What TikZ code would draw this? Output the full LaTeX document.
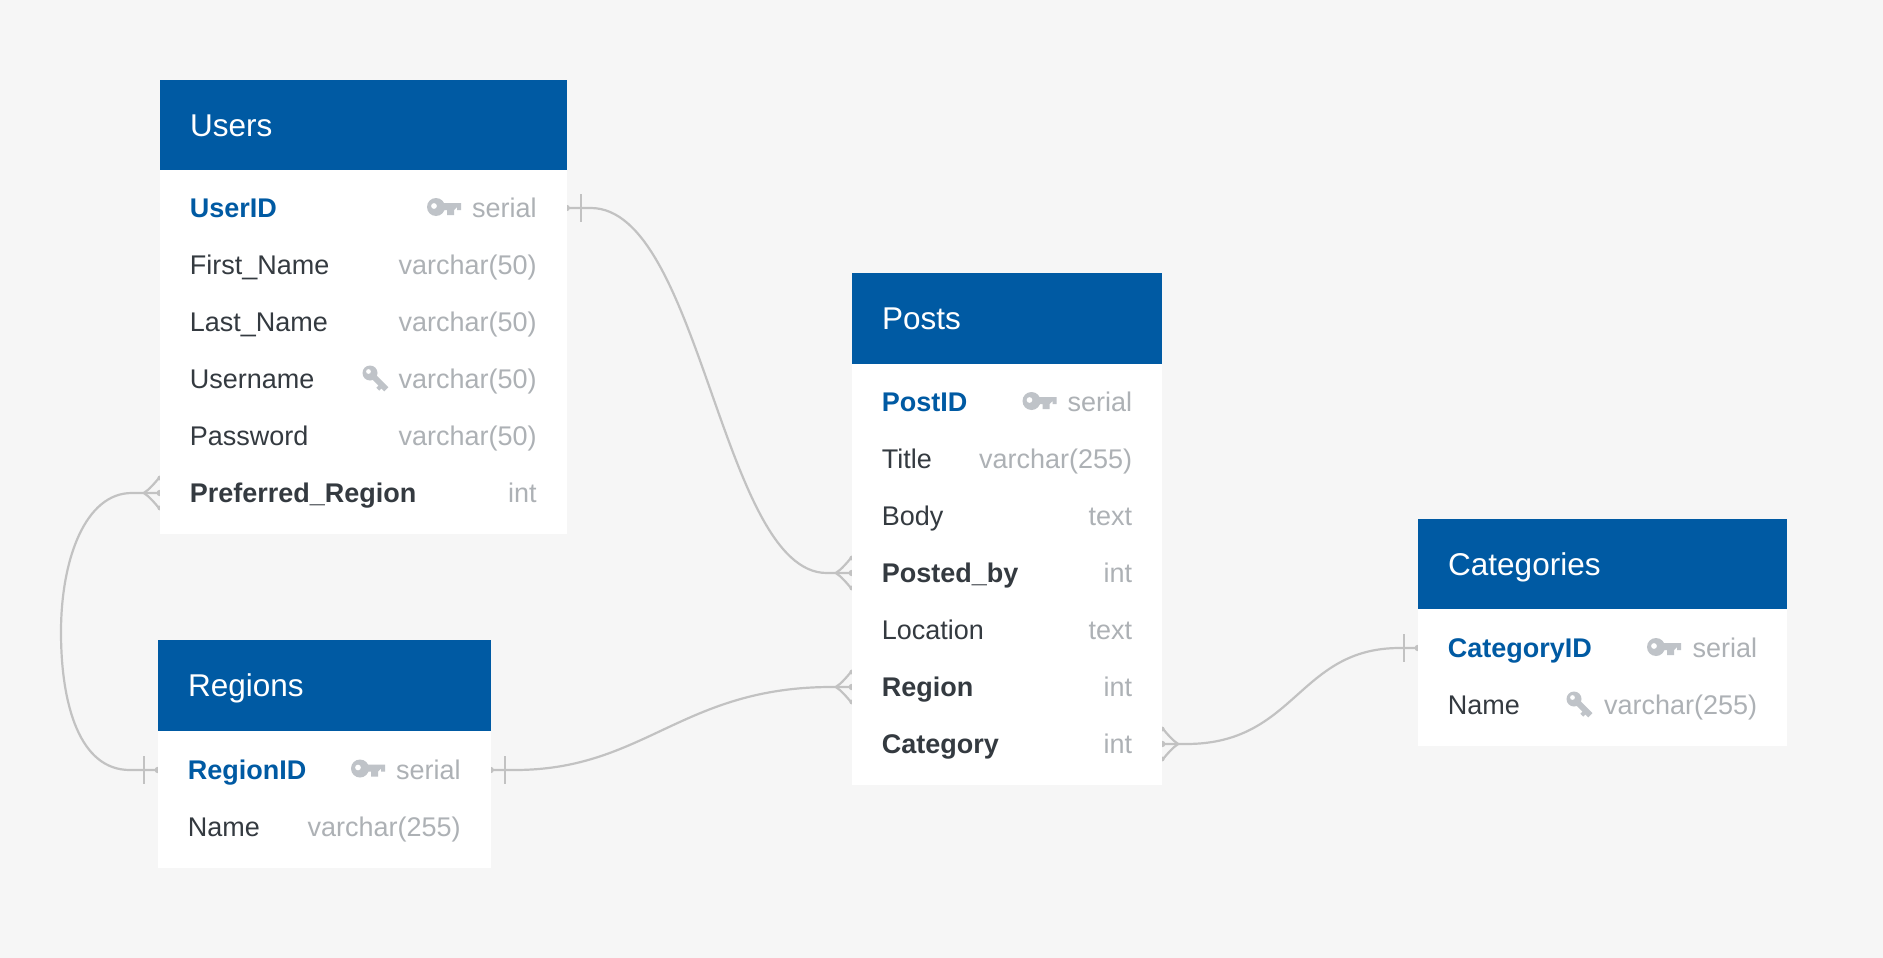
\documentclass[tikz,border=0pt]{standalone}
\usepackage{fontspec}
\setmainfont{Liberation Sans}
\definecolor{pagebg}{HTML}{F6F6F6}
\definecolor{headblue}{HTML}{005AA3}
\definecolor{darktext}{HTML}{343A40}
\definecolor{typetext}{HTML}{ADB1B5}
\definecolor{keygrey}{HTML}{BFC3C8}
\definecolor{linkgrey}{HTML}{C2C2C2}
\tikzset{
  headbox/.style={fill=headblue,draw=none,inner sep=0pt,anchor=north west,minimum height=91pt},
  bodybox/.style={fill=white,draw=none,inner sep=0pt,anchor=north west},
  rowbox/.style={draw=none,fill=none,inner sep=0pt,minimum height=57pt},
  headtext/.style={text=white,inner sep=0pt,anchor=base west,font=\fontsize{31.5}{36}\selectfont},
  fieldtext/.style={text=darktext,inner sep=0pt,anchor=base west,font=\fontsize{27}{32}\selectfont},
  boldtext/.style={fieldtext,font=\fontsize{27}{32}\selectfont\bfseries},
  pktext/.style={boldtext,text=headblue},
  typelabel/.style={text=typetext,inner sep=0pt,anchor=base east,font=\fontsize{27}{32}\selectfont},
  link/.style={draw=linkgrey,line width=2.2pt},
}
% row anchors, placed first so that connectors can lie under the tables
\newcommand{\rowanchor}[4]{%
  \node[rowbox,minimum width={(#3-#2)*1pt}] (#1) at ({(#2+#3)/2},#4) {};
}
% table: name, left, right, top, header bottom, bottom, title
\newcommand{\tablebox}[7]{%
  \node[bodybox,minimum width={(#3-#2)*1pt},minimum height={(#6-#4)*1pt}] (#1-body) at (#2,#4) {};
  \node[headbox,minimum width={(#3-#2)*1pt},minimum height={(#5-#4)*1pt}] (#1-head) at (#2,#4) {};
  \node[headtext] (#1-title) at (#2+30,#4+56) {#7};
}
% row text: name, left, right, centre y, style, field, type
\newcommand{\tablerow}[7]{%
  \node[#5] (#1-field) at (#2+29.6,#4+9.5) {#6};
  \node[typelabel] (#1-type) at (#3-29.6,#4+9.5) {#7};
}
\newcommand{\pkicon}[2]{%
  \fill[keygrey,even odd rule,shift={(#1,#2)}]
    (0,0) circle (9) (-2,-1) circle (3);
  \fill[keygrey,shift={(#1,#2)}]
    (5,-4) -- (25,-4) -- (25,3) -- (21,3) -- (21,0) -- (18,3) -- (18,8) -- (11,8) -- (11,3) -- (5,3) -- cycle;
}
\newcommand{\ukicon}[2]{%
  \fill[keygrey,even odd rule,shift={(#1,#2)}]
    (0,0) circle (7.5) (-1.5,-1.5) circle (2.5);
  \fill[keygrey,shift={(#1,#2)},rotate=-45]
    (4,-3) -- (23,-3) -- (23,3) -- (19,3) -- (19,6) -- (15,6) -- (15,3) -- (4,3) -- cycle;
}
% many end: anchor, direction (+1 = away to the right)
\newcommand{\crowend}[2]{%
  \begin{scope}[shift={(#1)},xscale=#2]
    \draw[link] (16,0) .. controls (11,-3) and (5,-10) .. (0,-16);
    \draw[link] (16,0) .. controls (11,3) and (5,10) .. (0,16);
    \draw[link] (16,0) -- (0,0);
    \fill[linkgrey] (0,0) circle (3.2) (0,-15) circle (2.4) (0,15) circle (2.4);
  \end{scope}
}
% one end
\newcommand{\barend}[2]{%
  \begin{scope}[shift={(#1)},xscale=#2]
    \draw[link] (14,-14) -- (14,14);
    \fill[linkgrey] (0,0) circle (3.2);
  \end{scope}
}
\begin{document}
\begin{tikzpicture}[x=1pt,y=-1pt]
\useasboundingbox (0,0) rectangle (1883,958);
\fill[pagebg] (0,0) rectangle (1883,958);

% row anchors used by connectors
\rowanchor{users-r1}{160}{566.5}{208}
\rowanchor{users-r6}{160}{566.5}{493}
\rowanchor{regions-r1}{158}{490.5}{770}
\rowanchor{posts-r4}{852}{1162}{573}
\rowanchor{posts-r6}{852}{1162}{687}
\rowanchor{posts-r7}{852}{1162}{744}
\rowanchor{cats-r1}{1418}{1787}{648}

% connectors
\draw[link] (users-r1.east) -- ++(24,0) .. controls ++(110,0) and ([xshift=-130pt]posts-r4.west) .. ([xshift=-25pt]posts-r4.west) -- (posts-r4.west);
\draw[link] (regions-r1.west) -- ++(-28,0) .. controls ++(-50,0) and (61,705) .. (61,632) .. controls (61,560) and (85,493) .. ([xshift=-28pt]users-r6.west) -- (users-r6.west);
\draw[link] (regions-r1.east) -- ++(24,0) .. controls ++(130,0) and ([xshift=-170pt]posts-r6.west) .. ([xshift=-20pt]posts-r6.west) -- (posts-r6.west);
\draw[link] (posts-r7.east) -- ++(24,0) .. controls ++(110,0) and ([xshift=-120pt]cats-r1.west) .. ([xshift=-18pt]cats-r1.west) -- (cats-r1.west);
\crowend{users-r6.west}{-1}
\crowend{posts-r4.west}{-1}
\crowend{posts-r6.west}{-1}
\crowend{posts-r7.east}{1}
\barend{users-r1.east}{1}
\barend{regions-r1.west}{-1}
\barend{regions-r1.east}{1}
\barend{cats-r1.west}{-1}

% tables
\tablebox{users}{160}{566.5}{80}{170}{534}{Users}
\tablerow{users-r1}{160}{566.5}{208}{pktext}{UserID}{serial}
\tablerow{users-r2}{160}{566.5}{265}{fieldtext}{First\_Name}{varchar(50)}
\tablerow{users-r3}{160}{566.5}{322}{fieldtext}{Last\_Name}{varchar(50)}
\tablerow{users-r4}{160}{566.5}{379}{fieldtext}{Username}{varchar(50)}
\tablerow{users-r5}{160}{566.5}{436}{fieldtext}{Password}{varchar(50)}
\tablerow{users-r6}{160}{566.5}{493}{boldtext}{Preferred\_Region}{int}

\tablebox{regions}{158}{490.5}{640}{731}{867.5}{Regions}
\tablerow{regions-r1}{158}{490.5}{770}{pktext}{RegionID}{serial}
\tablerow{regions-r2}{158}{490.5}{827}{fieldtext}{Name}{varchar(255)}

\tablebox{posts}{852}{1162}{273}{364}{785}{Posts}
\tablerow{posts-r1}{852}{1162}{402}{pktext}{PostID}{serial}
\tablerow{posts-r2}{852}{1162}{459}{fieldtext}{Title}{varchar(255)}
\tablerow{posts-r3}{852}{1162}{516}{fieldtext}{Body}{text}
\tablerow{posts-r4}{852}{1162}{573}{boldtext}{Posted\_by}{int}
\tablerow{posts-r5}{852}{1162}{630}{fieldtext}{Location}{text}
\tablerow{posts-r6}{852}{1162}{687}{boldtext}{Region}{int}
\tablerow{posts-r7}{852}{1162}{744}{boldtext}{Category}{int}

\tablebox{cats}{1418}{1787}{519}{609}{746}{Categories}
\tablerow{cats-r1}{1418}{1787}{648}{pktext}{CategoryID}{serial}
\tablerow{cats-r2}{1418}{1787}{704.5}{fieldtext}{Name}{varchar(255)}

% key icons
\pkicon{436}{207}
\pkicon{1031.5}{401}
\pkicon{360}{768.5}
\pkicon{1656}{647}
\ukicon{370}{373}
\ukicon{1574}{699}
\end{tikzpicture}
\end{document}
